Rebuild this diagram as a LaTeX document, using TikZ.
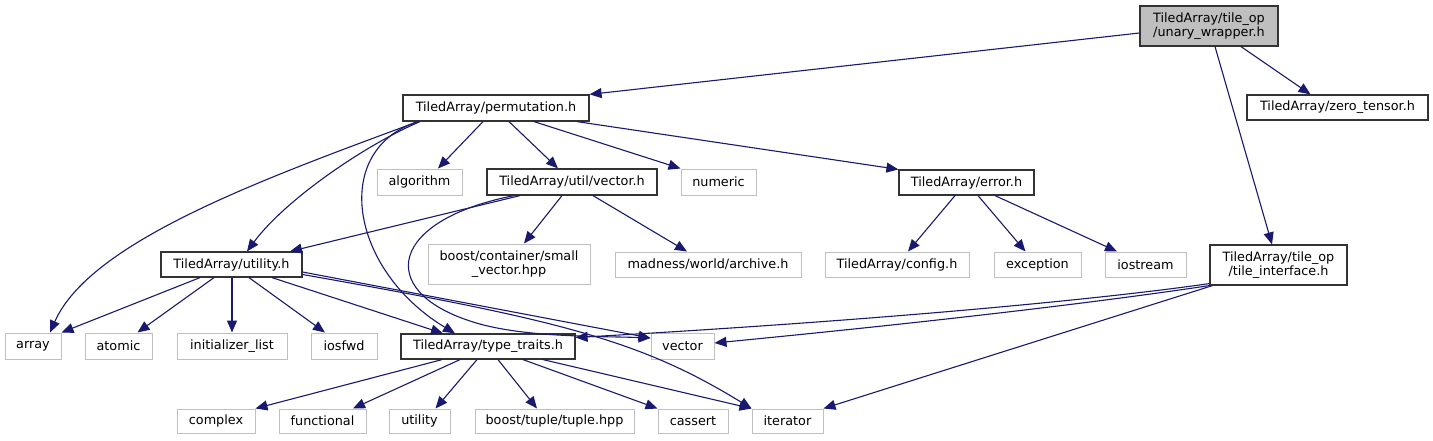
\documentclass[tikz,border=0pt]{standalone}
\usepackage{fontspec}
\setmainfont{DejaVu Sans}
\usetikzlibrary{arrows.meta}
\definecolor{edgeblue}{HTML}{191970}
\definecolor{grayborder}{HTML}{BFBFBF}
\definecolor{grayfill}{HTML}{BFBFBF}
\begin{document}
\begin{tikzpicture}[x=1pt,y=-1pt,
  base/.style={rectangle, inner sep=0pt, font=\fontsize{12.8}{14}\selectfont, align=center, minimum height=25pt},
  sysbox/.style={base, draw=grayborder, line width=1pt, fill=white},
  incbox/.style={base, draw=black!80, line width=1.2pt, fill=white},
  curbox/.style={base, draw=black!80, line width=1.2pt, fill=grayfill},
  dep/.style={draw=edgeblue, line width=1.1pt, -{Triangle[length=12pt,width=10pt]}},
]
\fill[white] (0,0) rectangle (1433,440);
\useasboundingbox (0,0) rectangle (1433,440);

% nodes
\node[curbox, minimum width=138pt, minimum height=40pt] (unary) at (1209,26) {TiledArray/tile\_op\\/unary\_wrapper.h};
\node[incbox, minimum width=181pt] (zero) at (1337.5,107.5) {TiledArray/zero\_tensor.h};
\node[incbox, minimum width=186pt, minimum height=26pt] (perm) at (496,108) {TiledArray/permutation.h};
\node[sysbox, minimum width=85pt, minimum height=26pt] (algo) at (419.5,182) {algorithm};
\node[incbox, minimum width=170pt, minimum height=26pt] (uvec) at (572,182) {TiledArray/util/vector.h};
\node[sysbox, minimum width=75pt, minimum height=26pt] (numeric) at (718.5,182) {numeric};
\node[incbox, minimum width=135pt] (error) at (966.5,182.5) {TiledArray/error.h};
\node[incbox, minimum width=141pt] (utilh) at (231.5,264.5) {TiledArray/utility.h};
\node[sysbox, minimum width=162pt, minimum height=40pt] (bcont) at (509,264) {boost/container/small\\\_vector.hpp};
\node[sysbox, minimum width=186pt] (madness) at (708,264.5) {madness/world/archive.h};
\node[sysbox, minimum width=144pt] (config) at (897,264.5) {TiledArray/config.h};
\node[sysbox, minimum width=87pt] (exception) at (1037.5,264.5) {exception};
\node[sysbox, minimum width=81pt] (iostream) at (1145.5,264.5) {iostream};
\node[incbox, minimum width=137pt, minimum height=40pt] (tileif) at (1278.5,265) {TiledArray/tile\_op\\/tile\_interface.h};
\node[sysbox, minimum width=56pt, minimum height=26pt] (array) at (33,346) {array};
\node[sysbox, minimum width=67pt, minimum height=26pt] (atomic) at (118.5,346) {atomic};
\node[sysbox, minimum width=110pt, minimum height=26pt] (initl) at (232,346) {initializer\_list};
\node[sysbox, minimum width=66pt, minimum height=26pt] (iosfwd) at (344,346) {iosfwd};
\node[incbox, minimum width=174pt] (ttraits) at (488,346.5) {TiledArray/type\_traits.h};
\node[sysbox, minimum width=63pt, minimum height=26pt] (vector) at (682.5,346) {vector};
\node[sysbox, minimum width=78pt, minimum height=24pt] (complex) at (216,421) {complex};
\node[sysbox, minimum width=87pt, minimum height=24pt] (functional) at (322.5,421) {functional};
\node[sysbox, minimum width=61pt, minimum height=24pt] (utilstd) at (419.5,421) {utility};
\node[sysbox, minimum width=159pt, minimum height=24pt] (btuple) at (554.5,421) {boost/tuple/tuple.hpp};
\node[sysbox, minimum width=70pt, minimum height=24pt] (cassert) at (693,421) {cassert};
\node[sysbox, minimum width=71pt, minimum height=24pt] (iterator) at (787.5,421) {iterator};

% unary_wrapper.h
\draw[dep] ([yshift=-7pt]unary.west) -- (perm.north east);
\draw[dep] ([xshift=32pt]unary.south) -- ([xshift=-27pt]zero.north);
\draw[dep] ([xshift=6pt]unary.south) -- ([xshift=-6.5pt]tileif.north);

% permutation.h
\draw[dep] ([xshift=-13pt]perm.south) -- ([xshift=18.5pt]algo.north);
\draw[dep] ([xshift=13pt]perm.south) -- ([xshift=-14pt]uvec.north);
\draw[dep] ([xshift=38pt]perm.south) -- (numeric.north west);
\draw[dep] ([xshift=81pt]perm.south) -- (error.north west);
\draw[dep] ([xshift=-76pt]perm.south) .. controls (365,145) and (285,200) .. ([xshift=15.5pt]utilh.north);
\draw[dep] ([xshift=-78pt]perm.south) .. controls (260,180) and (90,242) .. ([xshift=17pt]array.north);
\draw[dep] ([xshift=-78pt]perm.south) .. controls (330,150) and (350,270) .. ([xshift=-33pt]ttraits.north);

% util/vector.h
\draw[dep] ([xshift=-52pt]uvec.south) -- ([xshift=58.5pt]utilh.north);
\draw[dep] ([xshift=-10pt]uvec.south) -- ([xshift=15pt]bcont.north);
\draw[dep] ([xshift=21pt]uvec.south) -- ([xshift=-21pt]madness.north);
\draw[dep] ([xshift=-58pt]uvec.south) .. controls (390,220) and (375,290) .. (470,321)
  .. controls (520,338) and (600,336) .. ([yshift=8pt]vector.west);

% error.h
\draw[dep] ([xshift=-11.5pt]error.south) -- ([xshift=11pt]config.north);
\draw[dep] ([xshift=11.5pt]error.south) -- ([xshift=-12pt]exception.north);
\draw[dep] ([xshift=28.5pt]error.south) -- ([xshift=-28.5pt]iostream.north);

% utility.h
\draw[dep] ([xshift=-31.5pt]utilh.south) -- (array.north east);
\draw[dep] ([xshift=-17.5pt]utilh.south) -- ([xshift=19pt]atomic.north);
\draw[dep] ([xshift=0.5pt]utilh.south) -- (initl.north);
\draw[dep] ([xshift=17.5pt]utilh.south) -- ([xshift=-19pt]iosfwd.north);
\draw[dep] ([xshift=40.5pt]utilh.south) -- ([xshift=-45pt]ttraits.north);
\draw[dep] ([yshift=-7.5pt]utilh.east) -- ([yshift=8pt]vector.west);
\draw[dep] ([yshift=-10pt]utilh.east) .. controls (560,320) and (640,340) .. (iterator.north west);

% tile_interface.h
\draw[dep] ([yshift=2pt]tileif.south west) .. controls (1080,302) and (850,322) .. ([yshift=9pt]ttraits.east);
\draw[dep] ([yshift=0pt]tileif.south west) .. controls (1080,305) and (900,325) .. ([yshift=3pt]vector.east);
\draw[dep] ([xshift=3pt]tileif.south west) -- (iterator.north east);

% type_traits.h
\draw[dep] ([xshift=-46pt]ttraits.south) -- (complex.north east);
\draw[dep] ([xshift=-28pt]ttraits.south) -- ([xshift=30.5pt]functional.north);
\draw[dep] ([xshift=-11pt]ttraits.south) -- ([xshift=16pt]utilstd.north);
\draw[dep] ([xshift=10pt]ttraits.south) -- ([xshift=-17.5pt]btuple.north);
\draw[dep] ([xshift=35pt]ttraits.south) -- (cassert.north west);
\draw[dep] ([xshift=55pt]ttraits.south) -- (iterator.north west);
\end{tikzpicture}
\end{document}
